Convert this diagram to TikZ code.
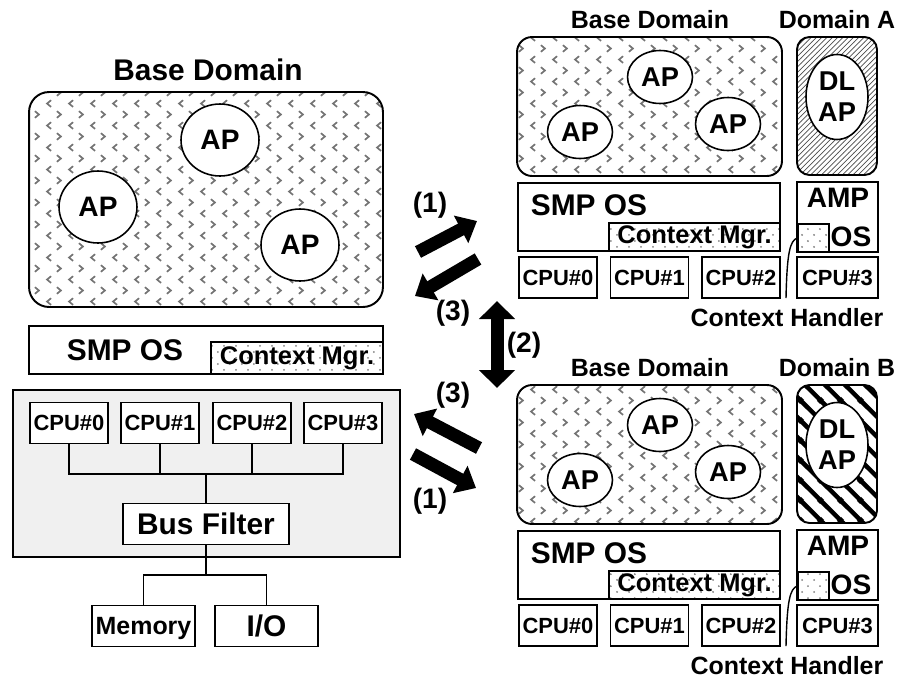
\documentclass[tikz,border=0pt]{standalone}
\usepackage{fontspec}
\setmainfont{Liberation Sans}
\usetikzlibrary{arrows.meta,patterns,shapes.geometric}

\newcommand{\fbig}{\fontsize{17}{20}\selectfont\bfseries}
\newcommand{\fmid}{\fontsize{14.2}{17}\selectfont\bfseries}
\newcommand{\fap}{\fontsize{16}{18}\selectfont\bfseries}
\newcommand{\fsap}{\fontsize{15.5}{17.6}\selectfont\bfseries}
\newcommand{\fcpu}{\fontsize{12.5}{14}\selectfont\bfseries}
\newcommand{\fctx}{\fontsize{14.5}{16}\selectfont\bfseries}

\pgfdeclarepatternformonly{chevrons}{\pgfqpoint{0pt}{0pt}}{\pgfqpoint{12.5pt}{12.5pt}}{\pgfqpoint{12.5pt}{12.5pt}}{
  \pgfsetlinewidth{0.95pt}
  \pgfpathmoveto{\pgfqpoint{4.6pt}{1.2pt}}
  \pgfpathlineto{\pgfqpoint{2.3pt}{3.1pt}}
  \pgfpathlineto{\pgfqpoint{4.6pt}{5pt}}
  \pgfpathmoveto{\pgfqpoint{7.9pt}{7.5pt}}
  \pgfpathlineto{\pgfqpoint{10.2pt}{9.4pt}}
  \pgfpathlineto{\pgfqpoint{7.9pt}{11.3pt}}
  \pgfusepath{stroke}
}
\pgfdeclarepatternformonly{sparsedots}{\pgfqpoint{0pt}{0pt}}{\pgfqpoint{7pt}{7pt}}{\pgfqpoint{7pt}{7pt}}{
  \pgfpathcircle{\pgfqpoint{1.8pt}{1.8pt}}{0.6pt}
  \pgfpathcircle{\pgfqpoint{5.3pt}{5.3pt}}{0.6pt}
  \pgfusepath{fill}
}
\pgfdeclarepatternformonly{widehatch}{\pgfqpoint{0pt}{0pt}}{\pgfqpoint{11.4pt}{11.4pt}}{\pgfqpoint{11.4pt}{11.4pt}}{
  \pgfsetlinewidth{2.7pt}
  \pgfpathmoveto{\pgfqpoint{-1pt}{1pt}}
  \pgfpathlineto{\pgfqpoint{1pt}{-1pt}}
  \pgfpathmoveto{\pgfqpoint{-1pt}{12.4pt}}
  \pgfpathlineto{\pgfqpoint{12.4pt}{-1pt}}
  \pgfpathmoveto{\pgfqpoint{10.4pt}{12.4pt}}
  \pgfpathlineto{\pgfqpoint{12.4pt}{10.4pt}}
  \pgfusepath{stroke}
}

\begin{document}
\begin{tikzpicture}[x=0.02cm,y=-0.02cm,
    box/.style={draw,line width=1pt,inner sep=0pt},
    cpu/.style={box,fill=white,minimum width=1.57cm,minimum height=0.82cm,font=\fcpu},
    ap/.style={draw,line width=0.9pt,ellipse,fill=white,inner sep=0pt,font=\fap},
    basedom/.style={draw,line width=1.1pt,inner sep=0pt,pattern=chevrons,pattern color=black!55},
    ctxmgr/.style={box,pattern=sparsedots,pattern color=black!50},
    fat/.style={line width=0.26cm,-{Triangle[length=0.36cm,width=0.6cm]}}]
  \useasboundingbox (0,0) rectangle (898,680);

  % left: one base domain on all cores
  \node[font=\fbig] (ttl) at (208,70) {Base Domain};
  \node[basedom,rounded corners=0.4cm,minimum width=7.08cm,minimum height=4.3cm] (bd) at (206,199.5) {};
  \node[ap,minimum width=1.56cm,minimum height=1.44cm] (ap1) at (220,140) {AP};
  \node[ap,minimum width=1.56cm,minimum height=1.44cm] (ap2) at (98,207) {AP};
  \node[ap,minimum width=1.56cm,minimum height=1.44cm] (ap3) at (300,245) {AP};
  \node[box,minimum width=7.08cm,minimum height=0.96cm] (smp) at (206,350) {};
  \node[font=\fbig] (smpt) at (125,350) {SMP OS};
  \node[ctxmgr,minimum width=3.44cm,minimum height=0.64cm,font=\fctx] (cm) at (297,358) {Context Mgr.};

  % hardware
  \node[box,fill=black!6,minimum width=7.74cm,minimum height=3.34cm] (hw) at (206.5,473.5) {};
  \foreach \i/\x in {0/69,1/160,2/252,3/343}
    \node[cpu] (c\i) at (\x,423) {CPU\#\i};
  \coordinate (bus) at (206,474);
  \node[box,fill=white,minimum width=3.32cm,minimum height=0.82cm,font=\fbig] (bf) at (206,524) {Bus Filter};
  \foreach \i in {0,...,3}
    \draw[line width=1pt] (c\i.south) |- (bus);
  \draw[line width=1pt] (bus) -- (bf.north);
  \node[box,minimum width=2.06cm,minimum height=0.82cm,text height=10.2pt,text depth=0pt,font=\fmid] (mem) at (143.5,626) {Memory};
  \node[box,minimum width=2.06cm,minimum height=0.82cm,text height=12.2pt,text depth=0pt,font=\fbig] (io) at (266.5,626) {I/O};
  \coordinate (split) at (206,575);
  \draw[line width=1pt] (bf.south) -- (split);
  \draw[line width=1pt] (mem.north) |- (split) -| (io.north);

  % right: base domain plus one dedicated domain
  \foreach \g/\dy/\hp/\hc in {A/0/north east lines/black!70,B/348/widehatch/black} {
    \node[font=\fmid] (bt\g) at (650,20+\dy) {Base Domain};
    \node[font=\fmid] (dt\g) at (837,20+\dy) {Domain \g};
    \node[basedom,rounded corners=0.3cm,minimum width=5.3cm,minimum height=2.78cm] (bd\g) at (649.5,106.5+\dy) {};
    \node[ap,font=\fsap,minimum width=1.3cm,minimum height=1.06cm] (ap\g1) at (660,77+\dy) {AP};
    \node[ap,font=\fsap,minimum width=1.3cm,minimum height=1.06cm] (ap\g2) at (580,132+\dy) {AP};
    \node[ap,font=\fsap,minimum width=1.3cm,minimum height=1.06cm] (ap\g3) at (728,124+\dy) {AP};
    \node[draw,line width=1.1pt,rounded corners=0.25cm,pattern=\hp,pattern color=\hc,minimum width=1.6cm,minimum height=2.76cm] (dom\g) at (837,106+\dy) {};
    \node[ap,font=\fsap,align=center,minimum width=1.24cm,minimum height=1.7cm] (dl\g) at (837,97+\dy) {DL\\AP};
    \node[box,minimum width=5.24cm,minimum height=1.36cm] (smp\g) at (649,217+\dy) {};
    \node[font=\fbig] (smpt\g) at (589,205+\dy) {SMP OS};
    \node[ctxmgr,minimum width=3.42cm,minimum height=0.56cm,font=\fctx] (cm\g) at (694.5,237+\dy) {Context Mgr.};
    \node[box,minimum width=1.62cm,minimum height=1.4cm] (amp\g) at (837.5,217+\dy) {};
    \node[font=\fap] (ampt\g) at (838,198+\dy) {AMP};
    \node[font=\fap] (ost\g) at (851,237+\dy) {OS};
    \node[ctxmgr,minimum width=0.62cm,minimum height=0.56cm] (chd\g) at (813.5,238+\dy) {};
    \node[cpu,minimum width=1.56cm] (c\g0) at (558,277.5+\dy) {CPU\#0};
    \node[cpu,minimum width=1.56cm] (c\g1) at (649.5,277.5+\dy) {CPU\#1};
    \node[cpu,minimum width=1.56cm] (c\g2) at (741,277.5+\dy) {CPU\#2};
    \node[cpu,minimum width=1.62cm] (c\g3) at (837.5,277.5+\dy) {CPU\#3};
    \node[font=\fmid] (cht\g) at (787,318+\dy) {Context Handler};
    \coordinate (che\g) at (786,298+\dy);
    \draw[line width=0.8pt] (chd\g.west) .. controls (790,241+\dy) and (787,252+\dy) .. (che\g);
  }

  % switching arrows
  \coordinate (t1a) at (418,252);
  \coordinate (h1a) at (477,221);
  \coordinate (t3a) at (478,259);
  \coordinate (h3a) at (415,296);
  \coordinate (t3b) at (479,448);
  \coordinate (h3b) at (414,414);
  \coordinate (t1b) at (413,454);
  \coordinate (h1b) at (476,488);
  \coordinate (h2a) at (497,301);
  \coordinate (h2b) at (497,388);
  \draw[fat] (t1a) -- (h1a);
  \draw[fat] (t3a) -- (h3a);
  \draw[fat] (t3b) -- (h3b);
  \draw[fat] (t1b) -- (h1b);
  \draw[line width=0.26cm,{Triangle[length=0.36cm,width=0.7cm]}-{Triangle[length=0.36cm,width=0.7cm]}] (h2a) -- (h2b);
  \node[font=\fap] (l1a) at (430,205) {(1)};
  \node[font=\fap] (l3a) at (453,313) {(3)};
  \node[font=\fap] (l2) at (524,345) {(2)};
  \node[font=\fap] (l3b) at (453,395) {(3)};
  \node[font=\fap] (l1b) at (430,501) {(1)};
\end{tikzpicture}
\end{document}
